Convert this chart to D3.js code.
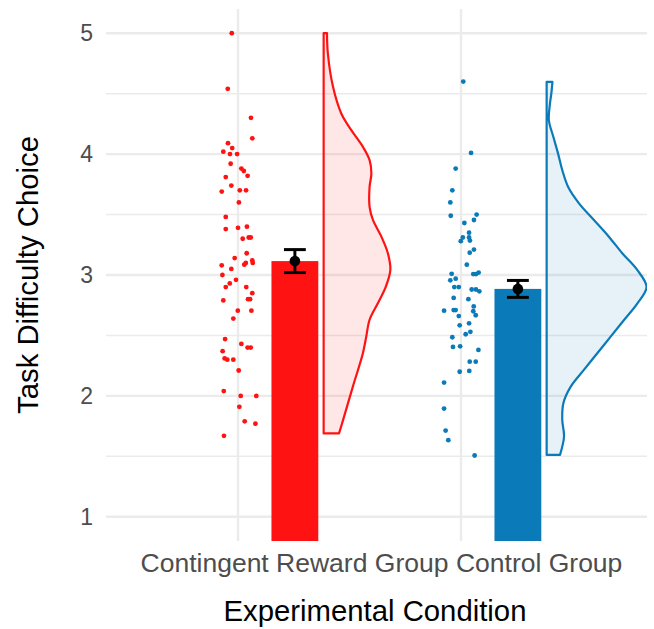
<!DOCTYPE html>
<html><head><meta charset="utf-8">
<script src="https://cdn.jsdelivr.net/npm/d3@7"></script>
<style>
body{margin:0;background:#fff}
svg{display:block}
text{font-family:"Liberation Sans",Arial,Helvetica,sans-serif}
</style>
</head><body>
<svg id="chart" width="654" height="629"></svg>
<script>
// ---------- data ----------
const categories = ["Contingent Reward Group", "Control Group"];
const groupColors = ["#ff1212", "#0a7ab8"];
const groupMeans = [3.115, 2.885];
const groupSE = [0.095, 0.07];
const yTicks = [1, 2, 3, 4, 5];
const yMinorTicks = [1.5, 2.5, 3.5, 4.5];
// where the category labels sit along the x axis (in category units)
const labelPositions = [1.251, 2.348];

const rewardValues = [5.0,4.54,4.30,4.13,4.09,4.05,4.02,4.00,4.00,3.92,3.88,3.86,3.82,3.81,3.74,3.69,3.70,3.70,3.60,3.48,
  3.38,3.39,3.40,3.30,3.31,3.31,3.14,3.18,3.08,3.05,3.085,3.10,3.12,3.10,3.00,2.96,2.90,2.93,2.90,2.85,
  2.79,2.80,2.80,2.705,2.705,2.64,2.47,2.43,2.40,2.40,2.37,2.31,2.30,2.30,2.21,2.04,2.00,2.00,1.91,1.79,1.77,1.67];
const rewardJitter = [-0.028,-0.046,0.058,0.064,-0.045,-0.026,-0.066,-0.036,-0.004,-0.033,0.015,0.026,0.043,-0.055,-0.030,-0.073,0.008,0.036,0.004,-0.055,
  -0.055,0.0,0.040,0.021,0.048,0.057,-0.015,0.039,-0.073,-0.030,0.028,0.035,0.064,0.066,-0.070,-0.009,-0.055,-0.037,0.037,0.064,
  -0.066,0.045,0.054,-0.001,0.060,-0.021,-0.058,0.015,0.043,0.057,-0.069,-0.060,-0.048,-0.021,0.003,-0.064,0.012,0.082,0.006,0.030,0.078,-0.063];

const controlValues = [4.60,4.01,3.88,3.70,3.60,3.49,3.50,3.455,3.43,3.35,3.31,3.28,3.31,3.285,3.21,3.185,3.085,3.01,3.008,3.008,
  3.02,2.956,2.97,2.90,2.90,2.88,2.88,2.865,2.81,2.80,2.74,2.705,2.71,2.71,2.70,2.667,2.66,2.60,2.584,2.51,
  2.53,2.485,2.405,2.41,2.38,2.283,2.283,2.20,2.207,2.11,1.895,1.713,1.634,1.507];
const controlJitter = [0.010,0.045,-0.024,-0.039,-0.048,-0.046,0.070,0.058,0.015,0.036,0.008,-0.001,0.036,0.040,0.058,0.039,0.026,-0.042,0.055,0.067,
  0.079,-0.048,-0.024,-0.030,-0.010,0.048,0.067,0.082,-0.033,0.033,0.057,-0.076,-0.033,-0.024,0.055,0.066,-0.010,0.036,-0.006,0.021,
  0.042,-0.039,-0.036,-0.004,0.078,0.039,0.066,-0.006,0.037,-0.076,-0.076,-0.069,-0.057,0.061];

// half-violin: [value, half-width in x-axis units]
const rewardDensity = [[5.0,0.015],[4.83,0.019],[4.556,0.042],[4.336,0.079],[4.198,0.124],[4.06,0.176],[3.95,0.206],[3.84,0.214],
  [3.73,0.206],[3.564,0.206],[3.455,0.221],[3.317,0.259],[3.18,0.288],[3.04,0.299],[2.90,0.278],[2.766,0.243],[2.63,0.206],
  [2.49,0.191],[2.353,0.176],[2.077,0.131],[1.80,0.087],[1.69,0.069]];
const controlDensity = [[4.597,0.026],[4.50,0.021],[4.42,0.015],[4.28,0.010],[4.143,0.030],[4.006,0.051],[3.868,0.070],[3.73,0.096],
  [3.593,0.145],[3.455,0.212],[3.317,0.279],[3.18,0.339],[3.04,0.407],[2.90,0.448],[2.766,0.407],[2.628,0.347],[2.49,0.287],
  [2.353,0.227],[2.215,0.167],[2.077,0.108],[1.94,0.075],[1.80,0.070],[1.664,0.078],[1.512,0.060]];

const groups = [
  {name: categories[0], color: groupColors[0], mean: groupMeans[0], se: groupSE[0], values: rewardValues, jitter: rewardJitter, density: rewardDensity},
  {name: categories[1], color: groupColors[1], mean: groupMeans[1], se: groupSE[1], values: controlValues, jitter: controlJitter, density: controlDensity}
];

// ---------- layout ----------
const panel = {left: 106, right: 647, top: 9, bottom: 541};
const svg = d3.select("#chart");

const y = d3.scaleLinear().domain([0.8, 5.2]).range([panel.bottom, panel.top]);
const x = d3.scaleLinear().domain([0.408, 2.834]).range([panel.left, panel.right]);
const catPos = (i) => i + 1;

const barOffset = 0.255, barWidth = 0.21, errHalf = 0.049, violinOffset = 0.384;

svg.append("defs").append("clipPath").attr("id", "clip")
  .append("rect").attr("x", panel.left).attr("y", panel.top)
  .attr("width", panel.right - panel.left).attr("height", panel.bottom - panel.top);

// grid
const grid = svg.append("g");
grid.selectAll(".minor").data(yMinorTicks).join("line")
  .attr("x1", panel.left).attr("x2", panel.right)
  .attr("y1", d => y(d)).attr("y2", d => y(d))
  .attr("stroke", "#ebebeb").attr("stroke-width", 1.5);
grid.selectAll(".major").data(yTicks).join("line")
  .attr("x1", panel.left).attr("x2", panel.right)
  .attr("y1", d => y(d)).attr("y2", d => y(d))
  .attr("stroke", "#ebebeb").attr("stroke-width", 2.4);
grid.selectAll(".vmajor").data(categories).join("line")
  .attr("x1", (d, i) => x(catPos(i))).attr("x2", (d, i) => x(catPos(i)))
  .attr("y1", panel.top).attr("y2", panel.bottom)
  .attr("stroke", "#ebebeb").attr("stroke-width", 2.4);

const plot = svg.append("g").attr("clip-path", "url(#clip)");

// violins
groups.forEach((g, i) => {
  const base = catPos(i) + violinOffset;
  const area = d3.area()
    .y(d => y(d[0]))
    .x0(x(base))
    .x1(d => x(base + d[1]))
    .curve(d3.curveCatmullRom);
  plot.append("path").datum(g.density)
    .attr("d", area)
    .attr("fill", g.color).attr("fill-opacity", 0.1)
    .attr("stroke", g.color).attr("stroke-width", 2.2).attr("stroke-linejoin", "round");
});

// jittered points
groups.forEach((g, i) => {
  plot.append("g").selectAll("circle").data(g.values).join("circle")
    .attr("cx", (d, j) => x(catPos(i) + g.jitter[j]))
    .attr("cy", d => y(d))
    .attr("r", 2.4)
    .attr("fill", g.color);
});

// bars
groups.forEach((g, i) => {
  const c = catPos(i) + barOffset;
  plot.append("rect")
    .attr("x", x(c - barWidth / 2)).attr("width", x(c + barWidth / 2) - x(c - barWidth / 2))
    .attr("y", y(g.mean)).attr("height", y(0) - y(g.mean))
    .attr("fill", g.color);
});

// error bars + mean points
groups.forEach((g, i) => {
  const c = catPos(i) + barOffset;
  const eb = plot.append("g").attr("stroke", "#000").attr("stroke-width", 3);
  eb.append("line").attr("x1", x(c)).attr("x2", x(c)).attr("y1", y(g.mean + g.se)).attr("y2", y(g.mean - g.se));
  eb.append("line").attr("x1", x(c - errHalf)).attr("x2", x(c + errHalf)).attr("y1", y(g.mean + g.se)).attr("y2", y(g.mean + g.se));
  eb.append("line").attr("x1", x(c - errHalf)).attr("x2", x(c + errHalf)).attr("y1", y(g.mean - g.se)).attr("y2", y(g.mean - g.se));
  plot.append("circle").attr("cx", x(c)).attr("cy", y(g.mean)).attr("r", 5.3).attr("fill", "#000");
});

// axes (text only, like theme_minimal)
const yAxis = d3.axisLeft(y).tickValues(yTicks).tickSize(0).tickPadding(13).tickFormat(d3.format("d"));
const gy = svg.append("g").attr("transform", `translate(${panel.left},0)`).call(yAxis);
gy.select(".domain").remove();
gy.selectAll("text").attr("fill", "#4d4d4d").style("font-size", "23px");

const xAxis = d3.axisBottom(x).tickValues(labelPositions).tickSize(0).tickPadding(12)
  .tickFormat((d, i) => categories[i]);
const gx = svg.append("g").attr("transform", `translate(0,${panel.bottom})`).call(xAxis);
gx.select(".domain").remove();
gx.selectAll("text").attr("fill", "#4d4d4d").style("font-size", "26.5px");

svg.append("text")
  .attr("x", 375).attr("y", 621)
  .attr("text-anchor", "middle").style("font-size", "29.3px").attr("fill", "#000")
  .text("Experimental Condition");

svg.append("text")
  .attr("transform", `translate(38,${(panel.top + panel.bottom) / 2}) rotate(-90)`)
  .attr("text-anchor", "middle").style("font-size", "29.3px").attr("fill", "#000")
  .text("Task Difficulty Choice");
</script>
</body></html>
